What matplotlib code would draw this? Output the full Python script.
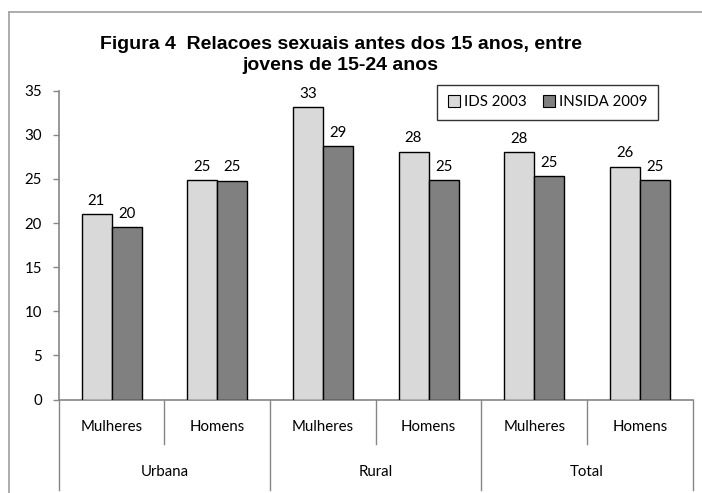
import matplotlib
matplotlib.use("Agg")
import matplotlib.pyplot as plt
import numpy as np
from matplotlib.lines import Line2D
from matplotlib.patches import Patch

groups = ["Urbana", "Rural", "Total"]
subcats = ["Mulheres", "Homens", "Mulheres", "Homens", "Mulheres", "Homens"]
series_names = ["IDS 2003", "INSIDA 2009"]
ids_2003 = [21.0, 24.9, 33.1, 28.1, 28.0, 26.4]
insida_2009 = [19.5, 24.8, 28.7, 24.9, 25.3, 24.9]
labels_ids = ["21", "25", "33", "28", "28", "26"]
labels_insida = ["20", "25", "29", "25", "25", "25"]
yticks = [0, 5, 10, 15, 20, 25, 30, 35]
title = "Figura 4  Relacoes sexuais antes dos 15 anos, entre\njovens de 15-24 anos"

FONT = "Lato"
FS = 10.8
AXC = "#868686"

fig = plt.figure(figsize=(7.02, 4.93), dpi=100)
W, H = 702, 493
ax = fig.add_axes([58.7 / W, (H - 399.5) / H, 634 / W, (399.5 - 90.7) / H])

x = np.arange(len(subcats))
bw = 0.284
b1 = ax.bar(x - bw / 2, ids_2003, bw, color="#D9D9D9", edgecolor="black", linewidth=1.0, label=series_names[0], zorder=3)
b2 = ax.bar(x + bw / 2, insida_2009, bw, color="#808080", edgecolor="black", linewidth=1.0, label=series_names[1], zorder=3)

for bars, labs in ((b1, labels_ids), (b2, labels_insida)):
    for r, lab in zip(bars, labs):
        ax.annotate(lab, (r.get_x() + r.get_width() / 2, r.get_height()),
                    xytext=(0, 4.5), textcoords="offset points", ha="center", va="bottom",
                    fontsize=FS, family=FONT, color="black")

ax.set_xlim(-0.5, len(subcats) - 0.5)
ax.set_ylim(0, 35)
ax.set_yticks(yticks)
ax.set_yticklabels([str(v) for v in yticks], fontsize=FS, family=FONT)
ax.tick_params(axis="y", direction="out", length=4, color=AXC, width=1, pad=8)
ax.set_xticks([])
for s in ("top", "right"):
    ax.spines[s].set_visible(False)
for s in ("left", "bottom"):
    ax.spines[s].set_color(AXC)
    ax.spines[s].set_linewidth(1.2)

axh = 399.5 - 90.7
tr = ax.get_xaxis_transform()
sub_bot = -(444 - 399.5) / axh
grp_bot = -(490 - 399.5) / axh
for i in range(len(subcats) + 1):
    xs = i - 0.5
    bot = grp_bot if i % 2 == 0 else sub_bot
    ax.add_line(Line2D([xs, xs], [0, bot], transform=tr, color=AXC, lw=1.0, clip_on=False))
for i, lab in enumerate(subcats):
    ax.text(i, -(427 - 399.5) / axh, lab, transform=tr, ha="center", va="center",
            fontsize=FS, family=FONT)
for g, lab in enumerate(groups):
    ax.text(2 * g + 0.5, -(472 - 399.5) / axh, lab, transform=tr, ha="center", va="center",
            fontsize=FS, family=FONT)

fig.text(340.5 / W, 1 - 55 / H, title, ha="center", va="center", fontsize=14,
         family="Liberation Sans", fontweight="bold", linespacing=1.3)

handles = [Patch(facecolor="#D9D9D9", edgecolor="black", lw=0.8),
           Patch(facecolor="#808080", edgecolor="black", lw=0.8)]
leg = fig.legend(handles, series_names, loc="center",
                 bbox_to_anchor=((443 + 652) / 2 / W, 1 - 102 / H), ncol=2,
                 prop={"family": FONT, "size": FS}, frameon=True, fancybox=False,
                 handlelength=0.8, handleheight=0.8, handletextpad=0.25,
                 columnspacing=1.1, borderpad=0.7, borderaxespad=0)
leg.get_frame().set_edgecolor("black")
leg.get_frame().set_linewidth(1.0)

# outer chart border (continues past the image)
fig.add_artist(Line2D([9 / W, 1.01], [1 - 12 / H, 1 - 12 / H], transform=fig.transFigure, color="#A6A6A6", lw=1.3))
fig.add_artist(Line2D([9 / W, 9 / W], [1 - 12 / H, -0.01], transform=fig.transFigure, color="#A6A6A6", lw=1.3))

fig.savefig("out.png", dpi=100)
